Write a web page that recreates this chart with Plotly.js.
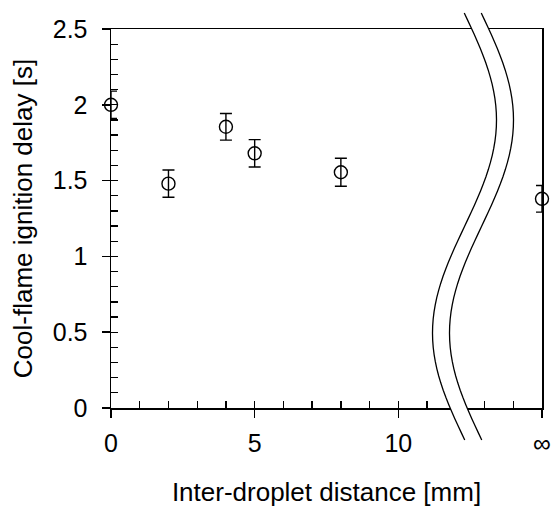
<!DOCTYPE html>
<html>
<head>
<meta charset="utf-8">
<script src="https://cdn.plot.ly/plotly-3.0.1.min.js"></script>
<style>html,body{margin:0;padding:0;background:#fff;}#chart{width:555px;height:507px;}</style>
</head>
<body>
<div id="chart"></div>
<script>
// Data
const distance = [0, 2, 4, 5, 8, 15];          // 15 stands for infinity
const delay = [2.00, 1.48, 1.855, 1.68, 1.555, 1.38];
const delayErr = [0.09, 0.09, 0.088, 0.09, 0.092, 0.088];
const xTickVals = [0, 5, 10, 15];
const xTickText = ['0', '5', '10', '∞'];
const yTickVals = [0, 0.5, 1, 1.5, 2, 2.5];
const yTickText = ['0', '0.5', '1', '1.5', '2', '2.5'];
const xMinorVals = [0,1,2,3,4,5,6,7,8,9,10,11,12,13,14,15];
const yMinorVals = [0,0.1,0.2,0.3,0.4,0.5,0.6,0.7,0.8,0.9,1,1.1,1.2,1.3,1.4,1.5,1.6,1.7,1.8,1.9,2,2.1,2.2,2.3,2.4,2.5];

const W = 555, H = 507;
const M = {l: 111, r: 13, t: 29, b: 99};
const PW = W - M.l - M.r, PH = H - M.t - M.b;
const FONT = 'Liberation Sans, Arial, sans-serif';

// axis-break decoration (pixel geometry -> paper coords)
function px2paperX(px){ return (px - M.l) / PW; }
function px2paperY(py){ return (H - M.b - py) / PH; }
function curvePts(cx){
  const pts = [];
  for (let i = 0; i <= 60; i++) {
    const y = 13 + (440 - 13) * i / 60;
    const x = cx + 32 * Math.sin(2 * Math.PI * (y - 13.5) / 426);
    pts.push([px2paperX(x), px2paperY(y)]);
  }
  return pts;
}
const leftC = curvePts(464.5), rightC = curvePts(481.5);
function toPath(pts){ return pts.map((p,i)=>(i?'L':'M')+p[0].toFixed(5)+','+p[1].toFixed(5)).join(' '); }
const fillPath = toPath(leftC) + ' ' + rightC.slice().reverse().map(p=>'L'+p[0].toFixed(5)+','+p[1].toFixed(5)).join(' ') + ' Z';

const traces = [
  {
    x: distance, y: delay, type: 'scatter', mode: 'markers',
    marker: {symbol: 'circle-open', size: 13, color: '#000', line: {width: 1.4, color: '#000'}},
    error_y: {type: 'data', array: delayErr, visible: true, color: '#000', thickness: 1.4, width: 6},
    cliponaxis: false, showlegend: false, hoverinfo: 'skip'
  },
  {x: [], y: [], xaxis: 'x2', yaxis: 'y2', type: 'scatter', mode: 'markers', showlegend: false, hoverinfo: 'skip'}
];

const layout = {
  width: W, height: H,
  margin: M,
  paper_bgcolor: '#fff', plot_bgcolor: '#fff',
  font: {family: FONT, color: '#000', size: 25},
  showlegend: false,
  xaxis: {
    range: [0, 15], showline: true, linecolor: '#000', linewidth: 1.5, mirror: true,
    tickmode: 'array', tickvals: xTickVals, ticktext: xTickText,
    ticks: 'outside', ticklen: 8, tickwidth: 1.5, tickcolor: '#000',
    showgrid: false, zeroline: false, tickfont: {size: 25, family: FONT}, ticklabelstandoff: 4,
    title: {text: 'Inter-droplet distance [mm]', font: {size: 26, family: FONT}, standoff: 28},
    fixedrange: true
  },
  yaxis: {
    range: [0, 2.5], showline: true, linecolor: '#000', linewidth: 1.5, mirror: true,
    tickmode: 'array', tickvals: yTickVals, ticktext: yTickText,
    ticks: 'outside', ticklen: 8, tickwidth: 1.5, tickcolor: '#000',
    showgrid: false, zeroline: false, tickfont: {size: 25, family: FONT}, ticklabelstandoff: 9,
    title: {text: 'Cool-flame ignition delay [s]', font: {size: 26, family: FONT}, standoff: 12},
    fixedrange: true
  },
  xaxis2: {
    overlaying: 'x', anchor: 'y2', range: [0, 15], side: 'bottom',
    tickmode: 'array', tickvals: xMinorVals, showticklabels: false,
    ticks: 'inside', ticklen: 7, tickwidth: 1.3, tickcolor: '#000',
    showline: false, showgrid: false, zeroline: false, fixedrange: true
  },
  yaxis2: {
    overlaying: 'y', anchor: 'x2', range: [0, 2.5], side: 'left',
    tickmode: 'array', tickvals: yMinorVals, showticklabels: false,
    ticks: 'inside', ticklen: 7, tickwidth: 1.3, tickcolor: '#000',
    showline: false, showgrid: false, zeroline: false, fixedrange: true
  },
  shapes: [
    {type: 'path', xref: 'paper', yref: 'paper', path: fillPath, fillcolor: '#fff', line: {width: 0}, layer: 'above'},
    {type: 'path', xref: 'paper', yref: 'paper', path: toPath(leftC), line: {color: '#000', width: 1.3}, layer: 'above'},
    {type: 'path', xref: 'paper', yref: 'paper', path: toPath(rightC), line: {color: '#000', width: 1.3}, layer: 'above'}
  ]
};

Plotly.newPlot('chart', traces, layout, {displayModeBar: false, staticPlot: true});
</script>
</body>
</html>
